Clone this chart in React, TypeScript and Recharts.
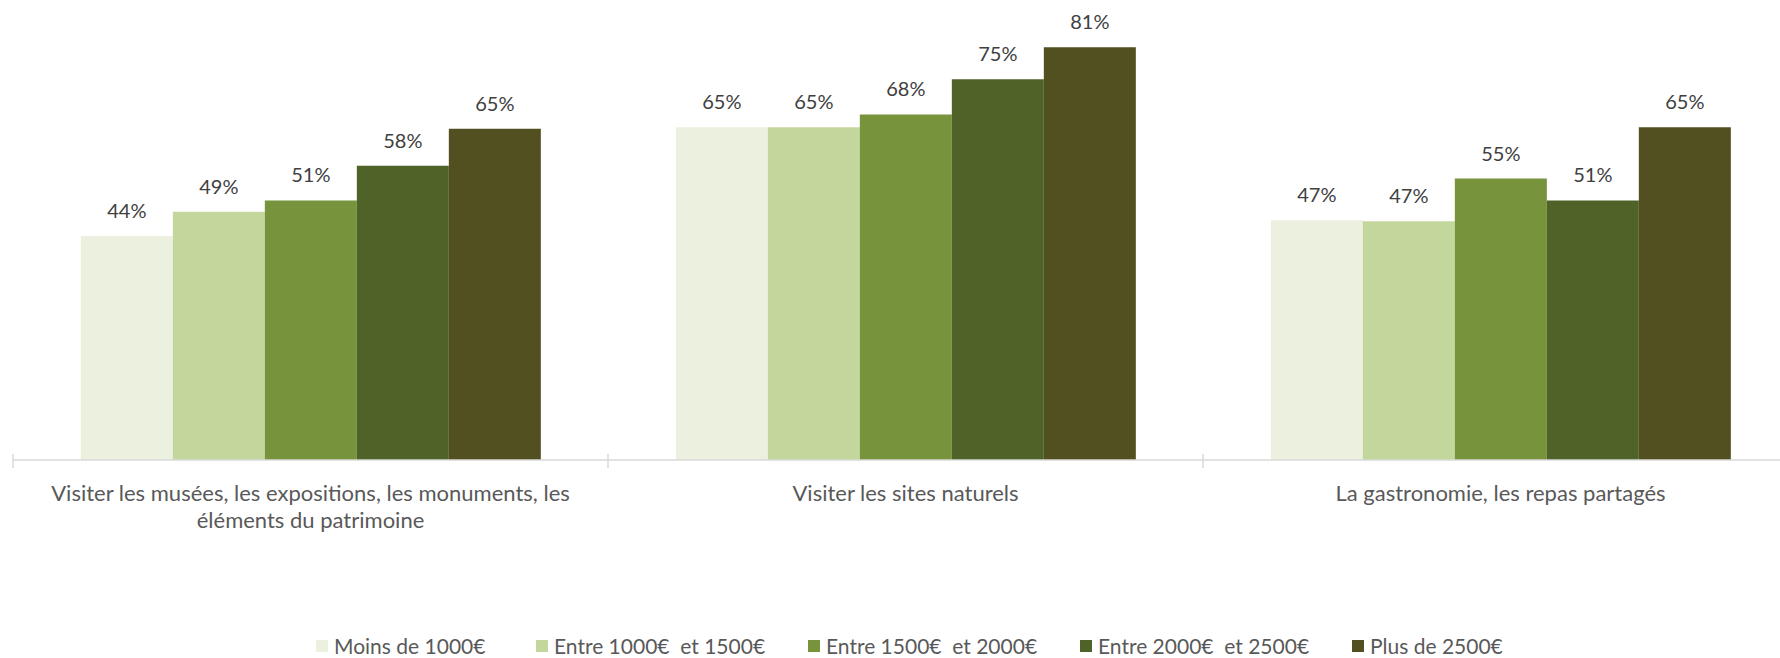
import { BarChart, Bar, XAxis, YAxis, LabelList } from "recharts";

const categories = [
  "Visiter les musées, les expositions, les monuments, les\néléments du patrimoine",
  "Visiter les sites naturels",
  "La gastronomie, les repas partagés",
];

const seriesNames = [
  "Moins de 1000€",
  "Entre 1000€  et 1500€",
  "Entre 1500€  et 2000€",
  "Entre 2000€  et 2500€",
  "Plus de 2500€",
];
const seriesKeys = ["moins1000", "entre1000", "entre1500", "entre2000", "plus2500"];
const seriesColors = ["#EBF1DE", "#C3D69B", "#77933C", "#4F6228", "#524F21"];

const moins1000 = [44.0, 65.4, 47.1];
const entre1000 = [48.8, 65.4, 46.9];
const entre1500 = [51.0, 67.9, 55.3];
const entre2000 = [57.8, 74.8, 51.0];
const plus2500 = [65.1, 81.1, 65.4];

const seriesValues = [moins1000, entre1000, entre1500, entre2000, plus2500];

const data = categories.map((name, i) => {
  const row: Record<string, string | number> = { name };
  seriesKeys.forEach((k, s) => {
    row[k] = seriesValues[s][i];
  });
  return row;
});

const FONT = "Lato, 'Open Sans', sans-serif";

function CategoryTick(props: any) {
  const { x, y, payload } = props;
  const half = payload?.offset ? payload.offset : 297.5;
  const lines = String(payload.value).split("\n");
  return (
    <g>
      <line x1={x - half} x2={x - half} y1={y - 6} y2={y + 8} stroke="#d9d9d9" strokeWidth={1.5} />
      <text x={x} y={y + 41} textAnchor="middle" fill="#595959" fontSize={22} fontFamily={FONT}>
        {lines.map((l, i) => (
          <tspan key={i} x={x} dy={i === 0 ? 0 : 27}>
            {l}
          </tspan>
        ))}
      </text>
    </g>
  );
}

export default function App() {
  return (
    <div
      style={{
        position: "fixed",
        left: 0,
        top: 0,
        width: 1780,
        height: 658,
        overflow: "hidden",
        background: "#fff",
      }}
    >
      <BarChart
        width={1800}
        height={658}
        data={data}
        margin={{ top: 2, right: 2, bottom: 138, left: 13 }}
        barCategoryGap="11.4%"
        barGap={0}
      >
        <XAxis
          dataKey="name"
          height={60}
          axisLine={{ stroke: "#d9d9d9", strokeWidth: 1.5 }}
          tickLine={false}
          tickSize={0}
          tickMargin={0}
          interval={0}
          tick={<CategoryTick />}
        />
        <YAxis hide domain={[0, 90]} />
        {seriesKeys.map((k, s) => (
          <Bar key={k} dataKey={k} name={seriesNames[s]} fill={seriesColors[s]} isAnimationActive={false}>
            <LabelList
              dataKey={k}
              position="top"
              offset={18}
              formatter={(v: any) => `${Math.round(Number(v))}%`}
              fill="#404040"
              fontSize={20}
              fontFamily={FONT}
            />
          </Bar>
        ))}
      </BarChart>
      <div
        style={{
          position: "absolute",
          left: 316,
          top: 633,
          height: 25,
          display: "flex",
          alignItems: "center",
          fontFamily: FONT,
          fontSize: 21,
          lineHeight: "25px",
          color: "#595959",
          whiteSpace: "pre",
        }}
      >
        {seriesNames.map((n, s) => (
          <div
            key={n}
            style={{
              display: "flex",
              alignItems: "center",
              height: 25,
              width: s === 0 ? 220 : s < seriesNames.length - 1 ? 272 : "auto",
            }}
          >
            <span
              style={{
                display: "inline-block",
                width: 12,
                height: 12,
                background: seriesColors[s],
                marginRight: 6,
              }}
            />
            <span>{n}</span>
          </div>
        ))}
      </div>
    </div>
  );
}
